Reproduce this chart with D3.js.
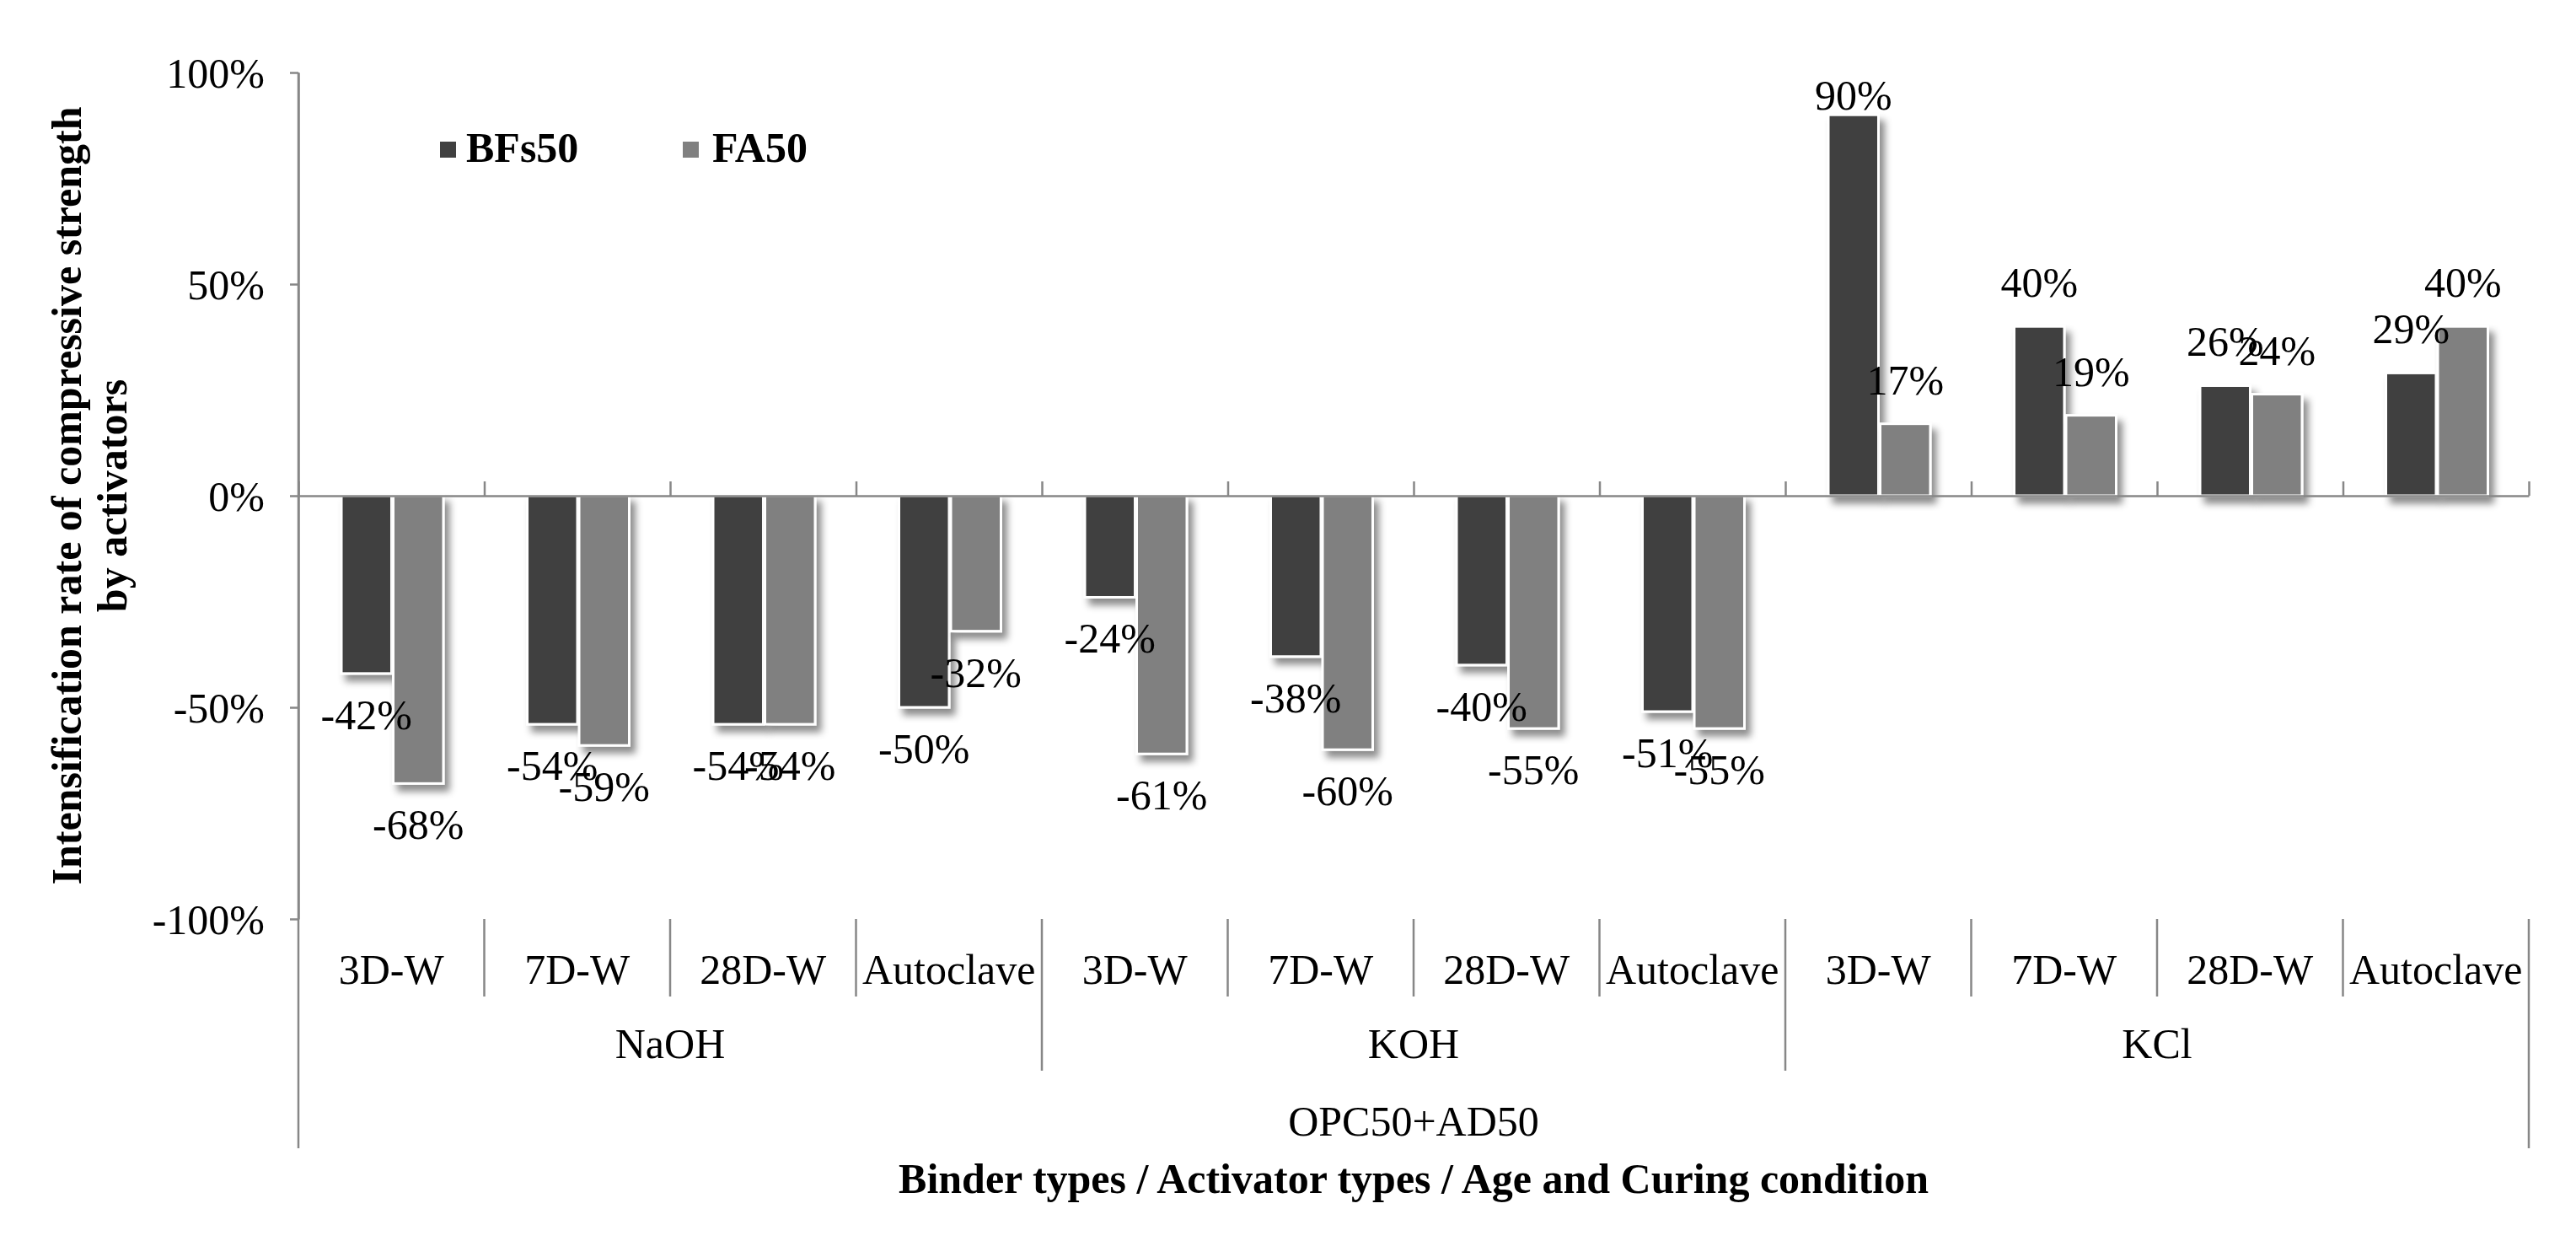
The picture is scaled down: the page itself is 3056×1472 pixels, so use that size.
<!DOCTYPE html>
<html>
<head>
<meta charset="utf-8">
<script src="https://cdn.jsdelivr.net/npm/d3@7"></script>
<style>
  body { margin: 0; background: #fff; }
  text { font-family: "Liberation Serif", "Times New Roman", serif; fill: #000; }
</style>
</head>
<body>
<script>
// data
var conditions = ["3D-W", "7D-W", "28D-W", "Autoclave"];
var activators = ["NaOH", "KOH", "KCl"];
var binder = "OPC50+AD50";
var seriesNames = ["BFs50", "FA50"];
var bfs50 = [-42, -54, -54, -50, -24, -38, -40, -51, 90, 40, 26, 29];
var fa50 = [-68, -59, -54, -32, -61, -60, -55, -55, 17, 19, 24, 40];
var yTicks = [-100, -50, 0, 50, 100];
var colors = ["#404040", "#808080"];

var width = 3056, height = 1472;
var plotLeft = 354, plotRight = 3000, plotTop = 86, plotBottom = 1090;
var axisGray = "#878787";

var svg = d3.select("body").append("svg")
    .attr("width", width)
    .attr("height", height)
    .style("background", "#fff");

var defs = svg.append("defs");
defs.append("filter")
    .attr("id", "shadow")
    .attr("x", "-30%").attr("y", "-10%")
    .attr("width", "180%").attr("height", "130%")
  .append("feDropShadow")
    .attr("dx", 6).attr("dy", 8)
    .attr("stdDeviation", 4)
    .attr("flood-color", "#000")
    .attr("flood-opacity", 0.45);

// category keys, one per activator/condition pair
var keys = [];
activators.forEach(function(a) {
  conditions.forEach(function(c) { keys.push(a + "|" + c); });
});

var rows = keys.map(function(k, i) {
  return { key: k, cond: k.split("|")[1], values: [bfs50[i], fa50[i]] };
});

var x0 = d3.scaleBand().domain(keys).range([plotLeft, plotRight]).padding(0);
var xb = d3.scaleLinear().domain([0, keys.length]).range([plotLeft, plotRight]);
var x1 = d3.scaleBand().domain(seriesNames).range([51, 172]).paddingInner(0.033);
var y = d3.scaleLinear().domain([-100, 100]).range([plotBottom, plotTop]);

// y axis
var yAxis = svg.append("g")
    .attr("transform", "translate(" + plotLeft + ",0)")
    .call(d3.axisLeft(y).tickValues(yTicks).tickFormat(function(d) { return d + "%"; })
      .tickSize(10).tickSizeOuter(0).tickPadding(30));
yAxis.select(".domain").attr("stroke", axisGray).attr("stroke-width", 2.5);
yAxis.selectAll(".tick line").attr("stroke", axisGray).attr("stroke-width", 2.5);
yAxis.selectAll(".tick text")
    .style("font-family", "'Liberation Serif', serif")
    .style("font-size", "50px")
    .attr("fill", "#000")
    .attr("dy", "0.34em");

// bars
var groups = svg.append("g").selectAll("g")
    .data(rows)
  .enter().append("g")
    .attr("transform", function(d) { return "translate(" + x0(d.key) + ",0)"; });

groups.selectAll("rect")
    .data(function(d) { return d.values.map(function(v, i) { return { s: seriesNames[i], v: v, i: i }; }); })
  .enter().append("rect")
    .attr("x", function(d) { return x1(d.s); })
    .attr("y", function(d) { return Math.min(y(d.v), y(0)); })
    .attr("width", x1.bandwidth())
    .attr("height", function(d) { return Math.abs(y(d.v) - y(0)); })
    .attr("fill", function(d) { return colors[d.i]; })
    .attr("stroke", "#fff")
    .attr("stroke-width", 3)
    .attr("filter", "url(#shadow)");

// x axis line at zero with upward ticks on category boundaries
var xAxis = svg.append("g")
    .attr("transform", "translate(0," + y(0) + ")")
    .call(d3.axisTop(xb).tickValues(d3.range(keys.length + 1)).tickFormat("")
      .tickSize(17).tickSizeOuter(0));
xAxis.select(".domain").attr("stroke", axisGray).attr("stroke-width", 2.5);
xAxis.selectAll(".tick line").attr("stroke", axisGray).attr("stroke-width", 2.5);

// data labels
groups.selectAll("text.lbl")
    .data(function(d) { return d.values.map(function(v, i) { return { s: seriesNames[i], v: v }; }); })
  .enter().append("text")
    .attr("class", "lbl")
    .attr("x", function(d) { return x1(d.s) + x1.bandwidth() / 2; })
    .attr("y", function(d) {
      return d.v < 0 ? y(d.v) + 66 : Math.max(y(d.v) - 35, y(100) + 44);
    })
    .attr("text-anchor", "middle")
    .style("font-size", "50px")
    .text(function(d) { return d.v + "%"; });

// multi-level category axis below the plot
var lines = svg.append("g").attr("stroke", axisGray).attr("stroke-width", 2.5);
d3.range(keys.length + 1).forEach(function(i) {
  var y2 = 1182;
  if (i % conditions.length === 0) y2 = 1270;
  if (i === 0 || i === keys.length) y2 = 1362;
  lines.append("line")
      .attr("x1", xb(i)).attr("x2", xb(i))
      .attr("y1", i === 0 ? plotTop : plotBottom).attr("y2", y2);
});

svg.append("g").selectAll("text")
    .data(rows)
  .enter().append("text")
    .attr("x", function(d) { return x0(d.key) + x0.bandwidth() / 2; })
    .attr("y", 1167)
    .attr("text-anchor", "middle")
    .style("font-size", "50px")
    .text(function(d) { return d.cond; });

svg.append("g").selectAll("text")
    .data(activators)
  .enter().append("text")
    .attr("x", function(d, i) { return (xb(i * 4) + xb(i * 4 + 4)) / 2; })
    .attr("y", 1255)
    .attr("text-anchor", "middle")
    .style("font-size", "50px")
    .text(function(d) { return d; });

svg.append("text")
    .attr("x", (plotLeft + plotRight) / 2)
    .attr("y", 1347)
    .attr("text-anchor", "middle")
    .style("font-size", "50px")
    .text(binder);

// axis titles
svg.append("text")
    .attr("x", (plotLeft + plotRight) / 2)
    .attr("y", 1415)
    .attr("text-anchor", "middle")
    .style("font-size", "50px")
    .style("font-weight", "bold")
    .text("Binder types / Activator types / Age and Curing condition");

var yTitle = svg.append("text")
    .attr("transform", "translate(96," + (plotTop + plotBottom) / 2 + ") rotate(-90)")
    .attr("text-anchor", "middle")
    .style("font-size", "50px")
    .style("font-weight", "bold");
yTitle.append("tspan").attr("x", 0).attr("y", 0).text("Intensification rate of compressive strength");
yTitle.append("tspan").attr("x", 0).attr("y", 54).text("by activators");

// legend
var legendX = [522, 810];
var legend = svg.append("g").selectAll("g")
    .data(seriesNames)
  .enter().append("g")
    .attr("transform", function(d, i) { return "translate(" + legendX[i] + ",168)"; });
legend.append("rect")
    .attr("width", 19).attr("height", 19)
    .attr("fill", function(d, i) { return colors[i]; });
legend.append("text")
    .attr("x", function(d, i) { return i === 0 ? 31 : 35; })
    .attr("y", 24)
    .style("font-size", "50px")
    .style("font-weight", "bold")
    .text(function(d) { return d; });
</script>
</body>
</html>
